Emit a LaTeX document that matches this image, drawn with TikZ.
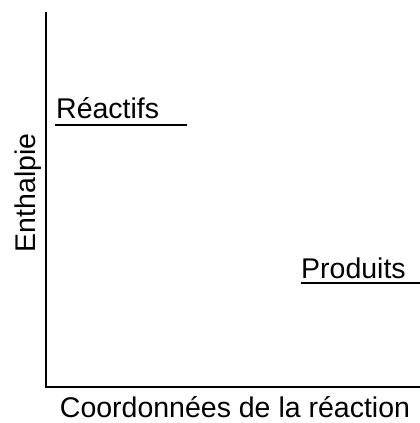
\documentclass[tikz,border=0pt]{standalone}
\usepackage{fontspec}
\setmainfont{Liberation Sans}
\begin{document}
\begin{tikzpicture}[x=1pt,y=-1pt,
  lbl/.style={font=\fontsize{28.5}{31}\selectfont, inner sep=0pt},
  ax/.style={line width=2pt},
  lvl/.style={line width=2pt}]
\useasboundingbox (0,0) rectangle (420,423);
\coordinate (top) at (46,12);
\coordinate (orig) at (46,387);
\coordinate (xend) at (420,387);
\draw[ax] (top) -- (orig) -- (xend);
\node[lbl, anchor=base west] (reac) at (56,118) {Réactifs};
\coordinate (r1) at (55,124.5);
\coordinate (r2) at (187,124.5);
\draw[lvl] (r1) -- (r2);
\node[lbl, anchor=base west] (prod) at (301,278) {Produits};
\coordinate (p1) at (301,283);
\coordinate (p2) at (420,283);
\draw[lvl] (p1) -- (p2);
\node[lbl, anchor=base, rotate=90] (ylab) at (35,193) {Enthalpie};
\node[lbl, anchor=base] (xlab) at (235,417) {Coordonnées de la réaction};
\end{tikzpicture}
\end{document}
